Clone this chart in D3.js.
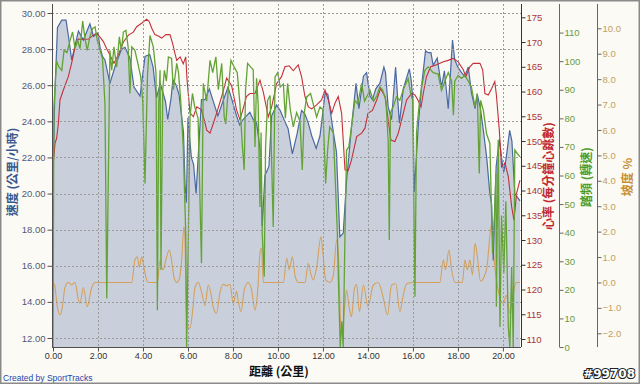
<!DOCTYPE html>
<html><head><meta charset="utf-8">
<script src="https://cdn.jsdelivr.net/npm/d3@7"></script>
<style>body{margin:0;background:#fbfaf5}svg{display:block}</style>
</head><body><svg id="c" width="640" height="384"></svg>
<script>
// ---- data (distance in km) ----
const speedKm = [0,0.08,0.2,0.39,0.58,0.7,0.83,1.0,1.13,1.35,1.64,1.8,2.0,2.09,2.2,2.31,2.53,2.8,3.05,3.2,3.42,3.6,3.87,4.09,4.3,4.45,4.6,4.77,5.0,5.1,5.25,5.33,5.48,5.6,5.8,5.87,5.93,6.0,6.15,6.25,6.36,6.6,6.76,6.95,7.1,7.33,7.55,7.78,7.93,8.16,8.3,8.45,8.6,8.75,8.9,9.05,9.2,9.3,9.42,9.6,9.72,9.94,10.1,10.3,10.45,10.64,10.85,11.05,11.2,11.35,11.5,11.7,11.87,12.1,12.22,12.38,12.5,12.6,12.75,12.9,13.05,13.27,13.47,13.6,13.8,13.94,14.09,14.2,14.35,14.53,14.71,14.78,14.9,15.05,15.23,15.32,15.4,15.57,15.84,15.92,16.0,16.06,16.24,16.38,16.56,16.68,16.8,16.9,17.08,17.27,17.4,17.57,17.68,17.76,17.86,18.0,18.16,18.3,18.46,18.6,18.76,18.86,19.0,19.13,19.28,19.42,19.5,19.57,19.7,19.84,19.95,20.04,20.15,20.3,20.4,20.53,20.76];
const speed = [20.8,25.5,29.2,29.6,29.6,28.6,27.4,28.3,29.0,28.5,29.4,28.7,28.9,28.1,27.6,27.4,26.1,27.2,28.0,28.1,27.5,25.9,25.4,27.6,27.7,27.0,25.3,26.1,25.1,24.1,25.3,26.3,26.0,25.5,23.4,20.5,19.5,24.2,22.0,21.6,20.0,25.2,25.2,25.8,25.2,24.3,25.1,25.9,25.3,24.3,23.8,24.1,24.3,24.5,24.1,23.9,22.5,18.2,21.0,21.5,24.3,24.9,24.6,24.0,23.6,22.2,23.3,24.6,24.4,23.9,23.2,22.5,23.2,25.6,25.5,24.1,23.1,22.3,17.6,17.8,20.7,23.7,26.1,24.7,26.5,26.7,25.4,25.2,25.8,26.1,27.0,26.7,24.8,24.1,27.0,25.3,23.9,25.8,26.9,26.3,25.2,20.1,23.8,25.9,27.9,27.8,27.8,27.1,27.5,25.9,26.8,24.7,26.9,28.5,27.4,27.0,26.7,26.5,27.0,25.6,24.7,25.5,24.7,23.5,22.0,20.0,19.4,16.3,21.5,23.0,21.9,21.2,22.0,23.5,22.9,20.0,19.6];

const hrKm = [0,0.09,0.16,0.24,0.31,0.46,0.68,0.83,0.98,1.13,1.35,1.58,1.79,1.94,2.09,2.24,2.38,2.53,2.71,2.9,3.13,3.35,3.57,3.72,3.94,4.16,4.27,4.39,4.53,4.68,4.83,5.02,5.2,5.32,5.42,5.5,5.65,5.79,5.9,5.96,6.09,6.24,6.39,6.6,6.76,6.83,6.98,7.13,7.27,7.5,7.72,7.94,8.16,8.31,8.45,8.6,8.75,8.98,9.2,9.35,9.57,9.72,9.94,10.16,10.31,10.5,10.68,10.9,11.05,11.2,11.35,11.5,11.72,11.94,12.09,12.24,12.39,12.53,12.68,12.83,12.98,13.12,13.27,13.5,13.72,13.87,14.0,14.2,14.39,14.56,14.76,14.9,15.02,15.2,15.35,15.5,15.72,15.94,16.09,16.22,16.36,16.46,16.6,16.79,17.05,17.35,17.57,17.79,18.01,18.24,18.35,18.53,18.68,18.98,19.1,19.2,19.35,19.5,19.64,19.71,19.84,19.94,20.09,20.24,20.39,20.49,20.61,20.76];
const hr = [144.8,149.6,150.5,153.6,158.3,160.3,163.0,165.8,169.0,170.6,170.5,170.6,171.4,171.8,171.0,170.1,168.7,167.4,165.7,167.4,170.0,171.4,172.0,173.1,173.8,174.6,174.2,172.8,171.5,171.2,170.8,171.5,171.5,169.7,167.7,166.3,167.0,165.6,167.0,162.3,155.7,154.9,156.9,156.3,153.6,152.2,151.6,153.6,155.6,159.0,162.7,161.2,156.3,154.3,156.5,159.0,159.6,159.6,162.3,159.9,154.9,156.9,161.6,163.0,165.0,165.2,164.2,165.4,163.0,159.0,156.9,156.5,157.3,158.3,160.3,158.3,155.6,157.6,159.0,155.6,144.2,144.0,146.2,150.9,151.6,152.6,155.6,156.2,158.3,160.6,159.0,154.3,150.2,149.9,151.6,154.3,158.3,159.6,159.3,158.3,156.9,159.6,163.0,165.0,165.4,166.0,166.3,166.7,166.0,164.4,163.0,165.0,165.7,165.7,164.4,159.6,159.3,160.6,162.0,159.3,152.2,144.8,145.6,142.8,136.7,134.0,139.5,142.1];

const cadKm = [0,0.04,0.16,0.26,0.39,0.49,0.62,0.76,0.87,0.98,1.09,1.2,1.32,1.42,1.52,1.64,1.76,1.87,1.97,2.09,2.2,2.31,2.39,2.46,2.53,2.61,2.71,2.83,2.95,3.04,3.13,3.24,3.34,3.42,3.5,3.64,3.78,3.9,3.99,4.09,4.2,4.31,4.46,4.58,4.64,4.7,4.76,4.8,4.88,4.95,5.04,5.13,5.27,5.35,5.5,5.58,5.67,5.79,5.9,5.94,6.02,6.09,6.2,6.3,6.45,6.6,6.68,6.83,6.98,7.1,7.24,7.35,7.5,7.61,7.68,7.79,7.91,8.05,8.19,8.31,8.41,8.5,8.56,8.65,8.78,8.9,8.98,9.05,9.12,9.2,9.25,9.3,9.39,9.45,9.54,9.65,9.79,9.87,9.99,10.1,10.24,10.33,10.43,10.55,10.68,10.83,10.98,11.08,11.17,11.28,11.45,11.6,11.72,11.87,12.0,12.12,12.21,12.3,12.46,12.56,12.64,12.71,12.77,12.84,12.9,12.98,13.05,13.15,13.27,13.42,13.55,13.72,13.85,14.09,14.25,14.4,14.53,14.65,14.8,14.9,14.95,15.0,15.12,15.27,15.42,15.57,15.79,15.9,15.99,16.04,16.09,16.16,16.28,16.39,16.53,16.68,16.9,17.12,17.27,17.42,17.57,17.72,17.8,17.86,18.01,18.16,18.31,18.46,18.6,18.76,18.86,18.95,19.01,19.13,19.27,19.42,19.54,19.62,19.69,19.71,19.79,19.87,19.94,20.04,20.13,20.24,20.31,20.39,20.46,20.53,20.64,20.76];
const cadence = [0,84,100,98,96.8,103.8,103,107.3,110.2,104.4,107.3,104.4,114,108,103.8,108.5,111.4,112,107.3,103.8,100.9,85,17,60,103.8,96.8,105,98,108.5,103.8,110.2,110.8,105,88.7,105,103.8,99,94.5,86,57.2,95,109,105,95.7,12.9,85,96.8,27,90,96.8,93,101.5,101,90,99.2,96,87,70,40,0,40,80.5,88.7,84,80,29.3,92.2,86,100.3,96,101.5,90,99.2,80.5,78,90,100.3,98,96,85,71.2,61.9,90,99.2,98,97,70,94,85,49,75,39.7,24.6,70,86.3,88,42,94.5,96,91,92,80,92.2,83,77,82,79,61.9,82,87.5,88.7,84,80.5,84,83,57.2,69,77,75,56,40,16.4,0,9,0,39.7,68.9,70,77,86.3,85,92.2,86,89.8,86,88,91,90,86.3,72,37.4,82,84,87.5,86.3,90,93.9,88.7,86.3,51.4,17.6,75,85,91,96.8,98,96,95.5,89.8,93,96,93,81.1,93,95,94,95,93,91,84,88.7,60.7,86.3,82.8,74.7,71.2,32.7,45,60.7,14.1,72.4,7,46,25.7,51,7,0,28,0,68.9,67.7,66.5];

const gradeKm = [0,0.07,0.19,0.31,0.42,0.53,0.68,0.83,0.98,1.13,1.2,1.35,1.52,1.72,1.87,2.01,3.5,3.64,3.75,3.84,3.94,4.04,4.16,4.25,4.64,4.76,4.83,4.9,4.98,5.05,5.17,5.27,5.38,5.5,5.62,5.72,5.82,5.87,5.91,5.97,6.09,6.21,6.31,6.46,6.61,6.76,6.9,7.0,7.13,7.27,7.42,7.57,7.72,7.87,8.01,8.16,8.23,8.36,8.5,8.68,8.83,8.98,9.1,9.2,9.27,9.35,10.24,10.39,10.5,10.64,10.76,10.9,11.2,11.35,11.46,11.57,11.72,11.91,12.0,12.12,12.31,12.46,12.61,12.7,12.75,12.8,12.86,12.95,13.05,13.16,13.27,13.39,13.5,13.62,13.8,14.0,14.24,14.46,14.68,14.87,15.05,15.24,15.42,15.55,15.72,16.01,17.2,17.35,17.45,17.6,17.72,17.87,18.2,18.31,18.42,18.53,18.65,18.76,18.88,19.0,19.27,19.5,19.6,19.79,20.01,20.15,20.31,20.45,20.58,20.76];
const grade = [0,-0.1,-0.95,-1.28,-0.95,-0.2,0,-0.1,0,-0.69,-0.82,-0.2,-0.95,-0.2,0,0,0,0.88,1.01,0.6,1.01,0.6,0.1,0,0,0.88,0.6,0.5,0.75,1.01,1.28,0.88,0.2,0,0.15,0.88,2.19,1.6,-0.5,-1.74,-1.8,-1.1,-0.2,0,-0.4,-0.9,-0.1,-0.35,-1.0,-1.21,-0.4,-0.07,-0.13,-0.07,-0.82,-0.35,-0.7,-1.15,-0.3,0,-0.3,-1.08,-0.3,1.15,1.35,0,0,0.95,0.5,1.01,0.27,0,0,0.75,0.35,0.1,0.6,1.8,1.15,0.1,0,0.27,1.67,0.9,-0.69,-1.87,-2.0,-1.1,-0.3,-0.95,-1.35,-0.3,-0.07,-1.15,-0.1,-0.95,-0.1,0,-0.6,-1.28,-0.1,-0.05,-1.15,-0.6,-0.05,0,0,0.88,0.5,1.28,0.5,0,0,0.88,0.5,0.88,0.3,1.54,0.9,0.05,0.5,2.3,1.0,-0.3,-0.82,-0.5,-1.21,-0.5,0,0];

const xTicks = [0,2,4,6,8,10,12,14,16,18,20];
const speedTicks = [12,14,16,18,20,22,24,26,28,30];
const hrTicks = [110,115,120,125,130,135,140,145,150,155,160,165,170,175];
const cadTicks = [0,10,20,30,40,50,60,70,80,90,100,110];
const gradeTicks = [-2,-1,0,1,2,3,4,5,6,7,8,9,10];

// ---- drawing ----
const svg = d3.select("#c");
const L = 52, R = 521, T = 4, B = 347;
const num = "'Liberation Sans', Arial, sans-serif";
const cjk = "'Noto Sans CJK TC', 'Noto Sans CJK SC', sans-serif";

svg.append("rect").attr("width",640).attr("height",384).attr("fill","#fbfaf5");

const x = d3.scaleLinear().domain([0,20.76]).range([53,520]);
const ySp = d3.scaleLinear().domain([12,30]).range([338,13]);
const yHr = d3.scaleLinear().domain([110,175]).range([339,17.3]);
const yCad = d3.scaleLinear().domain([0,120]).range([347,4]);
const yGr = d3.scaleLinear().domain([-2,10]).range([333.3,28.3]);

svg.append("clipPath").attr("id","clip").append("rect")
  .attr("x",L).attr("y",T).attr("width",R-L).attr("height",B-T);

const plot = svg.append("g").attr("clip-path","url(#clip)");

const sp = speedKm.map((k,i)=>[k,speed[i]]);
plot.append("path").datum(sp)
  .attr("fill","#c9d0dc")
  .attr("d", d3.area().x(d=>x(d[0])).y0(B).y1(d=>ySp(d[1])));

// grid
const grid = svg.append("g").attr("stroke","#9a9a9a").attr("stroke-width",1).attr("stroke-dasharray","2,2");
xTicks.filter(t=>t>0).forEach(t=>grid.append("line").attr("x1",Math.round(x(t))+0.5).attr("x2",Math.round(x(t))+0.5).attr("y1",T).attr("y2",B));
speedTicks.forEach(t=>grid.append("line").attr("x1",L).attr("x2",R).attr("y1",Math.round(ySp(t))+0.5).attr("y2",Math.round(ySp(t))+0.5));

// grade
plot.append("path").datum(gradeKm.map((k,i)=>[k,grade[i]]))
  .attr("fill","none").attr("stroke","#d4a05c").attr("stroke-width",1.1)
  .attr("d", d3.line().curve(d3.curveMonotoneX).x(d=>x(d[0])).y(d=>yGr(d[1])));
// speed line
plot.append("path").datum(sp)
  .attr("fill","none").attr("stroke","#4a68a2").attr("stroke-width",1.2)
  .attr("d", d3.line().x(d=>x(d[0])).y(d=>ySp(d[1])));
// heart rate
plot.append("path").datum(hrKm.map((k,i)=>[k,hr[i]]))
  .attr("fill","none").attr("stroke","#c4303a").attr("stroke-width",1.1)
  .attr("d", d3.line().x(d=>x(d[0])).y(d=>yHr(d[1])));
// cadence
plot.append("path").datum(cadKm.map((k,i)=>[k,cadence[i]]))
  .attr("fill","none").attr("stroke","#63a335").attr("stroke-width",1.3)
  .attr("d", d3.line().x(d=>x(d[0])).y(d=>yCad(d[1])));

function styleAxis(g, color, lineColor){
  g.selectAll("text").attr("fill",color).style("font-family",num).style("font-size","9.5px");
  g.selectAll("line").attr("stroke",lineColor);
  g.select(".domain").attr("stroke",lineColor);
}

// left speed axis
const gL = svg.append("g").attr("transform",`translate(${L+0.5},0)`)
  .call(d3.axisLeft(ySp).tickValues(speedTicks).tickFormat(d3.format(".2f")).tickSize(5).tickPadding(2).tickSizeOuter(0));
gL.select(".domain").attr("d",`M0,${T}V${B}`);
styleAxis(gL,"#4d5b7c","#505050");

// bottom axis
const gB = svg.append("g").attr("transform",`translate(0,${B+0.5})`)
  .call(d3.axisBottom(x).tickValues(xTicks).tickFormat(d3.format(".2f")).tickSize(4).tickPadding(1).tickSizeOuter(0));
gB.select(".domain").attr("d",`M${L},0H${R}`);
styleAxis(gB,"#333","#505050");
gB.selectAll("text").style("font-size","9px");

// HR axis
const gH = svg.append("g").attr("transform",`translate(${R+0.5},0)`)
  .call(d3.axisRight(yHr).tickValues(hrTicks).tickSize(4).tickPadding(1).tickSizeOuter(0));
gH.select(".domain").attr("d",`M0,${T}V${B}`);
styleAxis(gH,"#a8353a","#333");

// cadence axis
const gC = svg.append("g").attr("transform",`translate(559.5,0)`)
  .call(d3.axisRight(yCad).tickValues(cadTicks).tickSize(4).tickPadding(1).tickSizeOuter(0));
gC.select(".domain").attr("d",`M0,${T}V${B}`);
styleAxis(gC,"#6a9a3c","#666");

// grade axis
const gG = svg.append("g").attr("transform",`translate(597.5,0)`)
  .call(d3.axisRight(yGr).tickValues(gradeTicks).tickFormat(d3.format(".1f")).tickSize(4).tickPadding(1).tickSizeOuter(0));
gG.select(".domain").attr("d",`M0,${T}V${B}`);
styleAxis(gG,"#c0a062","#666");

// titles
function vtitle(txt, cx, cy, color){
  svg.append("text").attr("transform",`translate(${cx},${cy}) rotate(-90)`)
    .attr("text-anchor","middle").attr("dominant-baseline","central")
    .style("font-family",cjk).style("font-size","12px").style("font-weight","bold")
    .attr("fill",color).text(txt);
}
vtitle("速度 (公里/小時)", 11, 172, "#37588f");
vtitle("心率 (每分鐘心跳數)", 547, 176, "#c0282e");
vtitle("踏頻 (轉速)", 585, 177, "#4c9e2c");
vtitle("坡度 %", 626, 177, "#c88e34");

svg.append("text").attr("x",279).attr("y",370).attr("text-anchor","middle")
  .attr("dominant-baseline","central")
  .style("font-family",cjk).style("font-size","12px").style("font-weight","bold")
  .attr("fill","#111").text("距離 (公里)");

svg.append("text").attr("x",3).attr("y",381)
  .style("font-family",num).style("font-size","8.5px").attr("fill","#2446a8").text("Created by SportTracks");

svg.append("text").attr("x",635).attr("y",378).attr("text-anchor","end")
  .style("font-family","'DejaVu Sans', sans-serif").style("font-size","12px").style("font-weight","bold")
  .attr("fill","#fff").attr("stroke","#222").attr("stroke-width",2).attr("paint-order","stroke")
  .text("#99708");

// outer frame
svg.append("rect").attr("x",0.75).attr("y",0.75).attr("width",638.5).attr("height",382.5)
  .attr("fill","none").attr("stroke","#8a8a8a").attr("stroke-width",1.5);
</script></body></html>
